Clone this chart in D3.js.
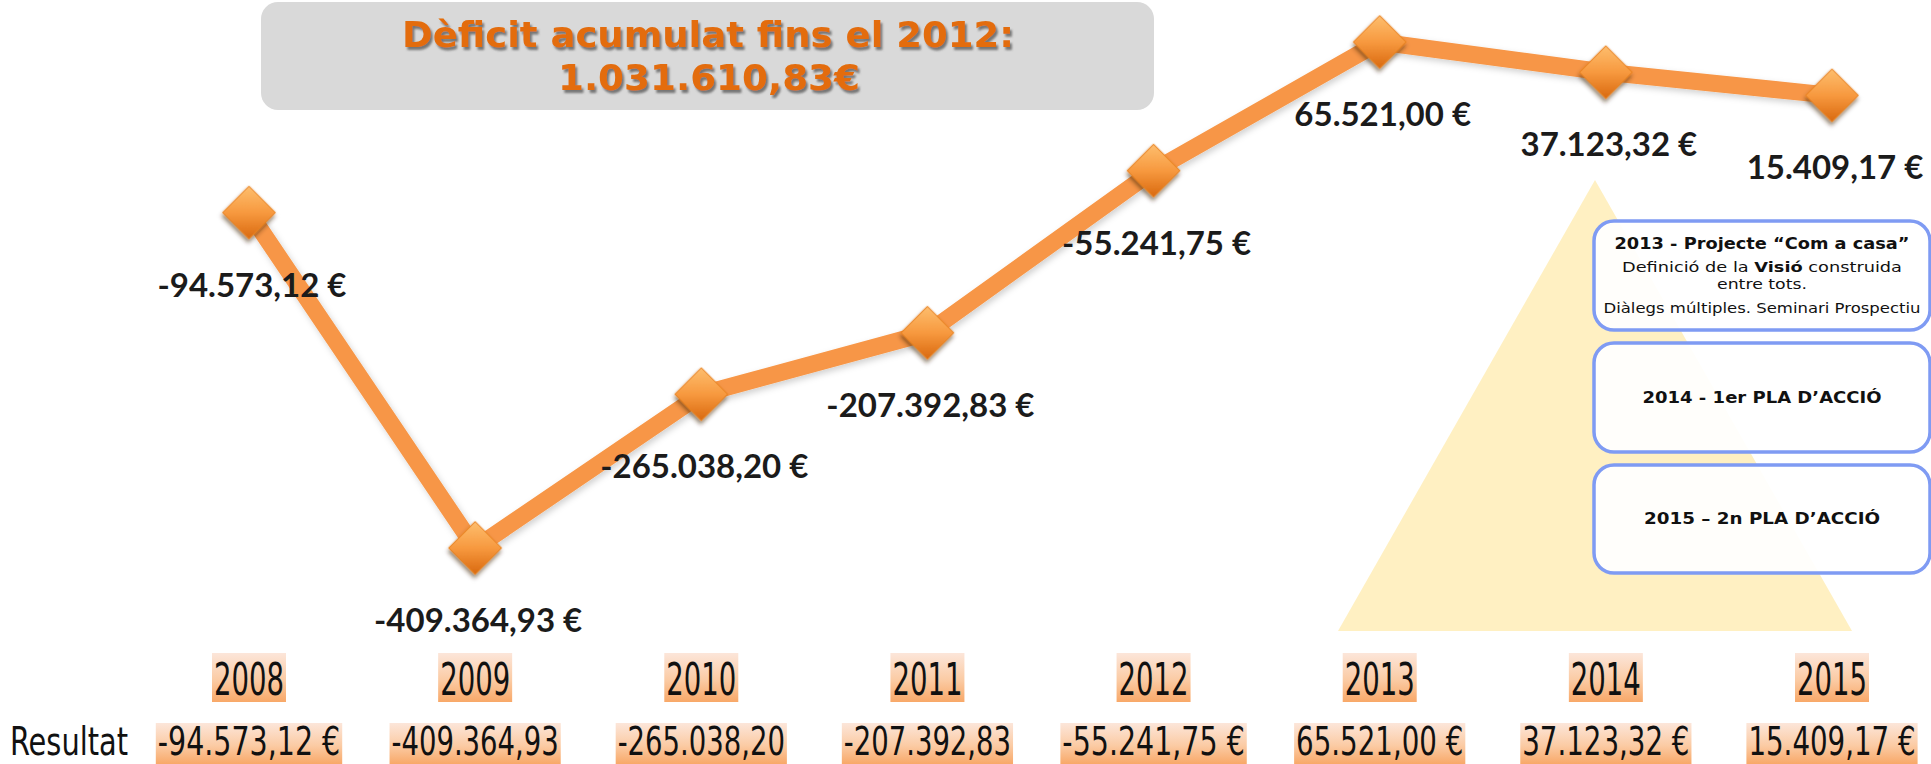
<!DOCTYPE html>
<html>
<head>
<meta charset="utf-8">
<script src="https://cdn.jsdelivr.net/npm/d3@7"></script>
<style>
  html, body { margin: 0; padding: 0; background: #ffffff; }
  svg { display: block; }
</style>
</head>
<body>
<svg id="chart" width="1931" height="764"></svg>
<script>
// ---------- data ----------
const years = ["2008", "2009", "2010", "2011", "2012", "2013", "2014", "2015"];
const resultValues = [-94573.12, -409364.93, -265038.20, -207392.83, -55241.75, 65521.00, 37123.32, 15409.17];
const pointLabels = ["-94.573,12 €", "-409.364,93 €", "-265.038,20 €", "-207.392,83 €", "-55.241,75 €", "65.521,00 €", "37.123,32 €", "15.409,17 €"];
const tableLabels = ["-94.573,12 €", "-409.364,93", "-265.038,20", "-207.392,83", "-55.241,75 €", "65.521,00 €", "37.123,32 €", "15.409,17 €"];
const rowLabel = "Resultat";
const titleLines = ["Dèficit acumulat fins el 2012:", "1.031.610,83€"];
const boxTexts = [
  [ [{t: "2013 - Projecte “Com a casa”", b: true}],
    [{t: "Definició de la ", b: false}, {t: "Visió", b: true}, {t: " construida", b: false}],
    [{t: "entre tots.", b: false}],
    [{t: "Diàlegs múltiples. Seminari Prospectiu", b: false}] ],
  [ [{t: "2014 - 1er PLA D’ACCIÓ", b: true}] ],
  [ [{t: "2015 – 2n PLA D’ACCIÓ", b: true}] ]
];

// ---------- setup ----------
const svg = d3.select("#chart");
const W = 1931, H = 764;
svg.append("rect").attr("width", W).attr("height", H).attr("fill", "#ffffff");

const defs = svg.append("defs");
const fTitle = defs.append("filter").attr("id", "titleShadow").attr("x", "-10%").attr("y", "-30%").attr("width", "120%").attr("height", "160%");
fTitle.append("feDropShadow").attr("dx", 2).attr("dy", 3).attr("stdDeviation", 1.3).attr("flood-color", "#555").attr("flood-opacity", 0.75);

const fLine = defs.append("filter").attr("id", "lineShadow").attr("x", "-10%").attr("y", "-10%").attr("width", "120%").attr("height", "130%");
fLine.append("feDropShadow").attr("dx", 2).attr("dy", 3).attr("stdDeviation", 3).attr("flood-color", "#000").attr("flood-opacity", 0.18);

const fMark = defs.append("filter").attr("id", "markShadow").attr("x", "-40%").attr("y", "-40%").attr("width", "180%").attr("height", "180%");
fMark.append("feDropShadow").attr("dx", 2).attr("dy", 3).attr("stdDeviation", 2).attr("flood-color", "#3a2000").attr("flood-opacity", 0.55);

const fAxis = defs.append("filter").attr("id", "axisShadow").attr("x", "-5%").attr("y", "-200%").attr("width", "110%").attr("height", "600%");
fAxis.append("feDropShadow").attr("dx", 0).attr("dy", 3).attr("stdDeviation", 2).attr("flood-color", "#000").attr("flood-opacity", 0.25);

const gMark = defs.append("linearGradient").attr("id", "markGrad").attr("x1", 0).attr("y1", 0).attr("x2", 1).attr("y2", 1);
gMark.append("stop").attr("offset", "0%").attr("stop-color", "#FDBE6E");
gMark.append("stop").attr("offset", "50%").attr("stop-color", "#F7993F");
gMark.append("stop").attr("offset", "100%").attr("stop-color", "#D9690F");

const gHi = defs.append("linearGradient").attr("id", "hiGrad").attr("x1", 0).attr("y1", 0).attr("x2", 0).attr("y2", 1);
gHi.append("stop").attr("offset", "0%").attr("stop-color", "#FCE6DA");
gHi.append("stop").attr("offset", "55%").attr("stop-color", "#FBCBA4");
gHi.append("stop").attr("offset", "100%").attr("stop-color", "#F8A868");

// ---------- scales ----------
const x = d3.scalePoint().domain(years).range([249, 1832]);
const y = d3.scaleLinear().domain([d3.min(resultValues), d3.max(resultValues)]).range([548, 42]);

// ---------- zero line ----------
svg.append("line")
  .attr("x1", 138).attr("x2", W)
  .attr("y1", y(0) + 1.5).attr("y2", y(0) + 1.5)
  .attr("stroke", "#7f7f7f").attr("stroke-width", 2.5)
  .attr("filter", "url(#axisShadow)");

// ---------- title box ----------
svg.append("rect")
  .attr("x", 261).attr("y", 2).attr("width", 893).attr("height", 108)
  .attr("rx", 17).attr("fill", "#D9D9D9");
const titleG = svg.append("g").attr("filter", "url(#titleShadow)");
titleG.selectAll("text").data(titleLines).join("text")
  .attr("x", (d, i) => i === 0 ? 708 : 709)
  .attr("y", (d, i) => i === 0 ? 47 : 90)
  .attr("text-anchor", "middle")
  .attr("font-family", "'DejaVu Sans', Verdana, sans-serif")
  .attr("font-weight", "bold")
  .attr("font-size", 36)
  .attr("textLength", (d, i) => i === 0 ? 612 : 302)
  .attr("lengthAdjust", "spacingAndGlyphs")
  .attr("fill", "#E36C0A")
  .text(d => d);

// ---------- pyramid ----------
svg.append("path")
  .attr("d", "M1595,180 L1852,631 L1338,631 Z")
  .attr("fill", "#FFF0C2");

// ---------- line ----------
const data = years.map((yr, i) => ({ year: yr, value: resultValues[i], label: pointLabels[i], table: tableLabels[i] }));
const line = d3.line().x(d => x(d.year)).y(d => y(d.value));
svg.append("path")
  .datum(data)
  .attr("d", line)
  .attr("fill", "none")
  .attr("stroke", "#F79646")
  .attr("stroke-width", 17)
  .attr("stroke-linejoin", "round")
  .attr("filter", "url(#lineShadow)");

// ---------- markers ----------
const sym = d3.symbol().type(d3.symbolSquare).size(1400);
svg.append("g").selectAll("path").data(data).join("path")
  .attr("d", sym)
  .attr("transform", d => `translate(${x(d.year)},${y(d.value)}) rotate(45)`)
  .attr("fill", "url(#markGrad)")
  .attr("stroke", "#E9831F").attr("stroke-width", 1)
  .attr("filter", "url(#markShadow)");

// ---------- point labels ----------
svg.append("g").selectAll("text").data(data).join("text")
  .attr("x", d => x(d.year) + 3)
  .attr("y", d => y(d.value) + 84)
  .attr("text-anchor", "middle")
  .attr("font-family", "Lato, 'Open Sans', sans-serif")
  .attr("font-weight", "bold")
  .attr("font-size", 33)
  .attr("fill", "#1b1b1b")
  .text(d => d.label);

// ---------- table rows ----------
const narrowFont = "'Liberation Sans Narrow', 'DejaVu Sans Condensed', 'Arial Narrow', sans-serif";
function highlightRow(cls, yTop, yBot, baseline, fontSize, key, perChar) {
  const g = svg.append("g");
  const rects = g.selectAll("rect").data(data).join("rect").attr("fill", "url(#hiGrad)");
  const texts = g.selectAll("text").data(data).join("text")
    .attr("x", d => x(d.year))
    .attr("y", baseline)
    .attr("text-anchor", "middle")
    .attr("font-family", narrowFont)
    .attr("font-size", fontSize)
    .attr("fill", "#111")
    .attr("textLength", d => d[key].length * perChar)
    .attr("lengthAdjust", "spacingAndGlyphs")
    .text(d => d[key]);
  texts.each(function (d) {
    d["_bb" + cls] = this.getBBox();
  });
  rects
    .attr("x", d => d["_bb" + cls].x - 2)
    .attr("width", d => d["_bb" + cls].width + 4)
    .attr("y", yTop)
    .attr("height", yBot - yTop);
}
highlightRow("yr", 653, 702, 695, 44, "year", 17.5);
highlightRow("val", 723, 764, 755, 39, "table", 15.2);

svg.append("text")
  .attr("x", 10).attr("y", 755)
  .attr("font-family", narrowFont)
  .attr("font-size", 39)
  .attr("textLength", 118).attr("lengthAdjust", "spacingAndGlyphs")
  .attr("fill", "#111")
  .text(rowLabel);

// ---------- annotation boxes ----------
const boxY = [[221, 330], [343, 452], [465, 573]];
const boxG = svg.append("g");
boxG.selectAll("rect").data(boxY).join("rect")
  .attr("x", 1594).attr("y", d => d[0])
  .attr("width", 336).attr("height", d => d[1] - d[0])
  .attr("rx", 20)
  .attr("fill", "#ffffff").attr("fill-opacity", 0.93)
  .attr("stroke", "#7F9BF3").attr("stroke-width", 3.5);

const lineSpecs = [
  [ {y: 249, len: 295, size: 15}, {y: 272, len: 280, size: 14.5}, {y: 289, len: 90, size: 14.5}, {y: 313, len: 317, size: 14.5} ],
  [ {y: 403, len: 239, size: 15} ],
  [ {y: 524, len: 236, size: 15} ]
];
boxTexts.forEach((lines, bi) => {
  lines.forEach((parts, li) => {
    const spec = lineSpecs[bi][li];
    const t = boxG.append("text")
      .attr("x", 1762).attr("y", spec.y)
      .attr("text-anchor", "middle")
      .attr("font-family", "'DejaVu Sans', Verdana, sans-serif")
      .attr("font-size", spec.size)
      .attr("fill", "#111")
      .attr("textLength", spec.len)
      .attr("lengthAdjust", "spacingAndGlyphs");
    t.selectAll("tspan").data(parts).join("tspan")
      .attr("font-weight", d => d.b ? "bold" : "normal")
      .text(d => d.t);
  });
});
</script>
</body>
</html>
